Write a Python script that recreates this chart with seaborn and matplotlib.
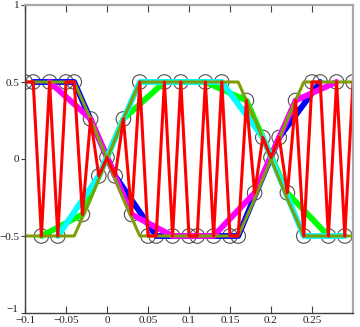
import numpy as np
import pandas as pd
import matplotlib
matplotlib.use("Agg")
import matplotlib.pyplot as plt
import matplotlib.transforms as mtransforms
import seaborn as sns

sns.set_style("white")
plt.rcParams['font.family'] = ['Liberation Serif', 'DejaVu Serif']

# sample times (step 0.01 from -0.1 to 0.3)
t = np.round(np.linspace(-0.1, 0.3, 41), 2)

# sampled signal (red polyline, circles)
samples = [0.5, 0.5, -0.5, 0.5, -0.5, 0.5, 0.5, -0.36, 0.26, -0.11,
           0.01, -0.11, 0.26, -0.36, 0.5, -0.5, -0.5, 0.5, -0.5, 0.5,
           -0.5, -0.5, 0.5, -0.5, 0.5, -0.5, -0.5, 0.38, -0.22, 0.14,
           0.01, 0.14, -0.22, 0.38, -0.5, 0.5, 0.5, -0.5, 0.5, -0.5, 0.5]

# envelope (olive), read at same times
envelope = [0.5, 0.5, 0.5, 0.5, 0.5, 0.5, 0.5, 0.38, 0.26, 0.13,
            0.0, -0.13, -0.26, -0.38, -0.5, -0.5, -0.5, -0.5, -0.5, -0.5,
            -0.5, -0.5, -0.5, -0.5, -0.5, -0.5, -0.5, -0.38, -0.26, -0.13,
            0.0, 0.13, 0.26, 0.38, 0.5, 0.5, 0.5, 0.5, 0.5, 0.5, 0.5]

x_ticks = [-0.1, -0.05, 0, 0.05, 0.1, 0.15, 0.2, 0.25]
x_tick_labels = ["\u22120.1", "\u22120.05", "0", "0.05", "0.1", "0.15", "0.2", "0.25"]
y_ticks = [-1, -0.5, 0, 0.5, 1]
y_tick_labels = ["\u22121", "\u22120.5", "0", "0.5", "1"]

samples_arr = np.array(samples)
env_arr = np.array(envelope)

fig = plt.figure(figsize=(3.6, 3.27), dpi=100)
ax = fig.add_axes([25/360, 14/327, 328/360, 308/327])

# decimated phases of the samples (every 5th sample)
phase_styles = [(1, "#0000ff"), (3, "#ff00ff"), (2, "#00ff00"), (4, "#00ffff")]

# circles at all samples (underneath)
sns.scatterplot(x=t, y=samples_arr, ax=ax, s=110, marker="o",
                facecolors="none", edgecolors="#505050", linewidths=0.8,
                zorder=1, legend=False)

for ph, col in phase_styles:
    sns.lineplot(x=t[ph::5], y=samples_arr[ph::5], ax=ax, color=col,
                 linewidth=4.2, sort=False, estimator=None, zorder=2,
                 legend=False)

sns.lineplot(x=t, y=env_arr, ax=ax, color="#7e9e08", linewidth=2.2,
             sort=False, estimator=None, zorder=3, legend=False)
sns.lineplot(x=t, y=-env_arr, ax=ax, color="#7e9e08", linewidth=2.2,
             sort=False, estimator=None, zorder=3, legend=False)

sns.lineplot(x=t, y=samples_arr, ax=ax, color="#ff0000", linewidth=2.2,
             sort=False, estimator=None, zorder=4, legend=False)

ax.set_xlim(-0.1, 0.3)
ax.set_ylim(-1, 1)
ax.set_xticks(x_ticks)
ax.set_xticklabels(x_tick_labels)
ax.set_yticks(y_ticks)
ax.set_yticklabels(y_tick_labels)
ax.set_xlabel("")
ax.set_ylabel("")

ax.tick_params(axis="x", direction="in", length=5, width=0.8, color="#404040",
               top=True, bottom=True, labelsize=8, pad=2, labelcolor="#202020")
ax.tick_params(axis="y", direction="out", length=3, width=0.8, color="#404040",
               left=True, labelsize=8, pad=1, labelcolor="#202020")

# lift the bottom y label a little so it clears the first x label
lbl = ax.get_yticklabels()[0]
lbl.set_transform(lbl.get_transform() +
                  mtransforms.ScaledTranslation(-1/100, 5/100, fig.dpi_scale_trans))

for side in ["left", "bottom"]:
    ax.spines[side].set_color("#404040")
    ax.spines[side].set_linewidth(1.0)
for side in ["top", "right"]:
    ax.spines[side].set_color("#a8a8a8")
    ax.spines[side].set_linewidth(1.6)
for s in ax.spines.values():
    s.set_visible(True)
    s.set_zorder(5)

fig.savefig("out.png", dpi=100)
